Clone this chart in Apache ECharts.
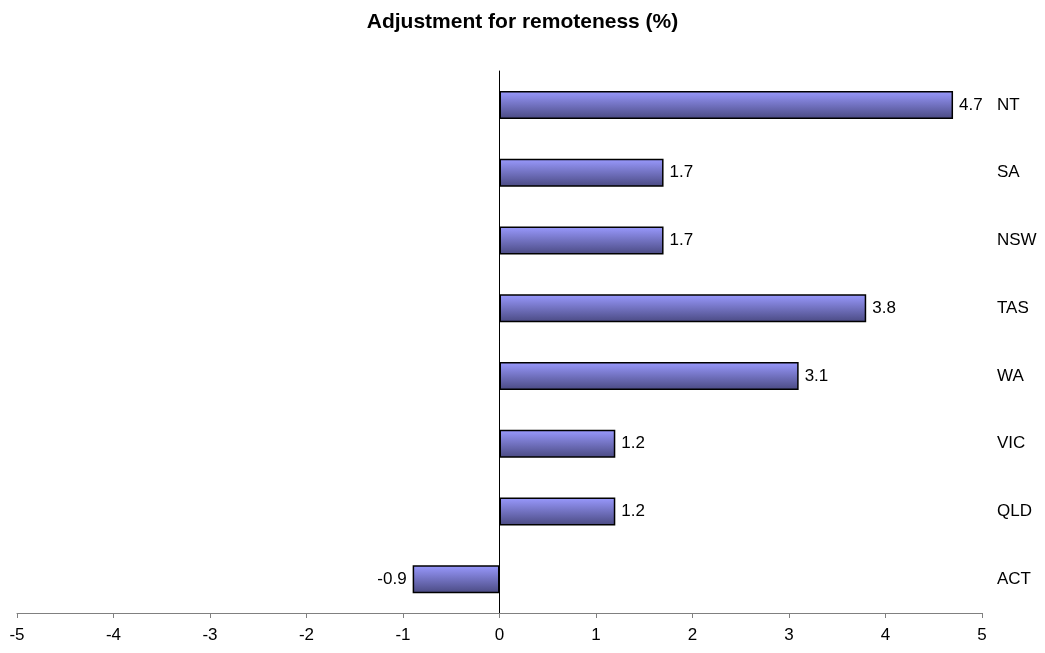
<!DOCTYPE html>
<html>
<head>
<meta charset="utf-8">
<script src="https://cdn.jsdelivr.net/npm/echarts@6/dist/echarts.min.js"></script>
<style>
html,body{margin:0;padding:0;background:#fff;}
#myChart{width:1045px;height:653px;}
</style>
</head>
<body>
<div id="myChart"></div>
<script>
// bottom to top, as drawn
const states = ['ACT', 'QLD', 'VIC', 'WA', 'TAS', 'NSW', 'SA', 'NT'];
const adjustment = [-0.9, 1.2, 1.2, 3.1, 3.8, 1.7, 1.7, 4.7];
const xTicks = [-5, -4, -3, -2, -1, 0, 1, 2, 3, 4, 5];

const myChart = echarts.init(document.getElementById('myChart'));

const barFill = new echarts.graphic.LinearGradient(0, 0, 0, 1, [
    {offset: 0, color: '#9a9aff'},
    {offset: 1, color: '#4a4a82'}
]);

const option = {
    animation: false,
    textStyle: {fontFamily: 'Liberation Sans, Arial, sans-serif'},
    title: {
        text: 'Adjustment for remoteness (%)',
        left: 'center',
        top: 7,
        textStyle: {fontSize: 21, fontWeight: 'bold', color: '#000'}
    },
    grid: {left: 17, right: 63, top: 71, bottom: 40},
    xAxis: {
        type: 'value',
        min: xTicks[0],
        max: xTicks[xTicks.length - 1],
        interval: 1,
        splitLine: {show: false},
        axisLine: {show: true, lineStyle: {color: '#808080', width: 1}},
        axisTick: {show: true, length: 5, lineStyle: {color: '#808080'}},
        axisLabel: {color: '#000', fontSize: 17, margin: 14}
    },
    yAxis: [
        {
            // the zero line
            type: 'category',
            data: states,
            axisLine: {show: true, onZero: true, lineStyle: {color: '#000', width: 1}},
            axisTick: {show: false},
            axisLabel: {show: false}
        },
        {
            type: 'category',
            data: states,
            position: 'right',
            axisLine: {show: false},
            axisTick: {show: false},
            axisLabel: {color: '#000', fontSize: 17, margin: 15, align: 'left'}
        }
    ],
    series: [
        {
            name: 'Adjustment',
            type: 'bar',
            barWidth: 28,
            data: adjustment.map(v => ({
                value: v,
                label: {position: v < 0 ? 'left' : 'right'}
            })),
            itemStyle: {color: barFill, borderColor: '#000', borderWidth: 1.5},
            label: {
                show: true,
                color: '#000',
                fontSize: 17,
                distance: 6,
                formatter: p => p.value.toFixed(1)
            }
        }
    ]
};
myChart.setOption(option);
window.addEventListener('resize', myChart.resize);
</script>
</body>
</html>
